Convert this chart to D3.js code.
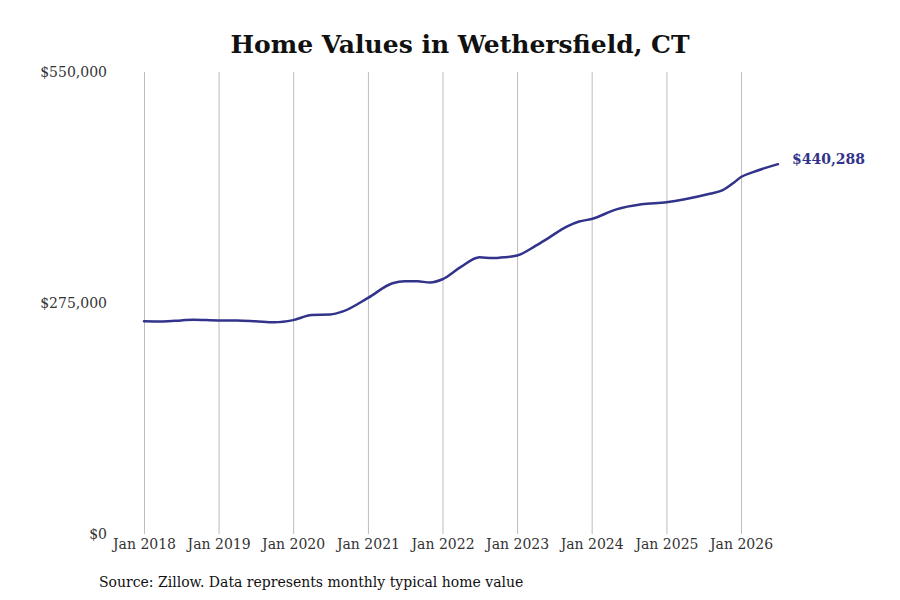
<!DOCTYPE html>
<html>
<head>
<meta charset="utf-8">
<script src="https://cdn.jsdelivr.net/npm/d3@7"></script>
<style>
	body { margin: 0; background: #fff; }
	svg { display: block; }
</style>
</head>
<body>
<svg id="chart" width="900" height="600"></svg>
<script>
// typical home value, Wethersfield CT
const months = [
	"2018-01", "2018-04", "2018-07", "2018-09", "2019-01", "2019-04", "2019-07", "2019-10",
	"2020-01", "2020-04", "2020-07", "2020-09", "2021-01", "2021-05", "2021-07", "2021-09",
	"2021-11", "2022-01", "2022-04", "2022-07", "2022-09", "2022-11", "2023-01", "2023-04",
	"2023-06", "2023-09", "2023-11", "2024-01", "2024-05", "2024-09", "2025-01", "2025-04",
	"2025-08", "2025-10", "2025-12", "2026-01", "2026-03", "2026-07"
];
const values = [
	253300, 253000, 254200, 255200, 254300, 254300, 253300, 252000,
	254600, 260800, 261300, 265000, 281000, 298500, 301000, 300800,
	299500, 303300, 318000, 329500, 328500, 329500, 331500, 343000,
	352000, 366000, 372000, 375000, 386500, 392500, 395000, 398500,
	405000, 409000, 419000, 425000, 430800, 440288
];
const yTicks = [0, 275000, 550000];
const xTickYears = [2018, 2019, 2020, 2021, 2022, 2023, 2024, 2025, 2026];

const title = "Home Values in Wethersfield, CT";
const source = "Source: Zillow. Data represents monthly typical home value";
const lineColor = "#32338a";

const width = 900;
const height = 600;
const margin = {top: 72, right: 122, bottom: 66, left: 144};

const parse = d3.timeParse("%Y-%m");
const data = months.map((m, i) => ({date: parse(m), value: values[i]}));

const svg = d3.select("#chart")
	.attr("viewBox", [0, 0, width, height]);

const x = d3.scaleTime()
	.domain([new Date(2018, 0, 1), new Date(2026, 6, 1)])
	.range([margin.left, width - margin.right]);

const y = d3.scaleLinear()
	.domain([0, 550000])
	.range([height - margin.bottom, margin.top]);

// title
svg.append("text")
	.attr("x", 460)
	.attr("y", 53)
	.attr("text-anchor", "middle")
	.style("font", "bold 25px 'DejaVu Serif'")
	.style("fill", "#111")
	.text(title);

// vertical grid + x labels
const xAxis = d3.axisBottom(x)
	.tickValues(xTickYears.map(yr => new Date(yr, 0, 1)))
	.tickFormat(d3.timeFormat("Jan %Y"))
	.tickSize(-(y(0) - y(550000)))
	.tickPadding(5);

const gx = svg.append("g")
	.attr("transform", "translate(0," + y(0) + ")")
	.call(xAxis);
gx.select(".domain").remove();
gx.selectAll(".tick line")
	.attr("stroke", "#bdbdbd")
	.attr("stroke-width", 1);
gx.selectAll(".tick text")
	.style("font", "14px 'DejaVu Serif'")
	.style("fill", "#333");

// y labels, no lines
const yAxis = d3.axisLeft(y)
	.tickValues(yTicks)
	.tickFormat(d => "$" + d3.format(",")(d))
	.tickSize(0)
	.tickPadding(37);

const gy = svg.append("g")
	.attr("transform", "translate(" + margin.left + ",0)")
	.call(yAxis);
gy.select(".domain").remove();
gy.selectAll(".tick text")
	.style("font", "14px 'DejaVu Serif'")
	.style("fill", "#333");

// the line
svg.append("path")
	.datum(data)
	.attr("fill", "none")
	.attr("stroke", lineColor)
	.attr("stroke-width", 2.5)
	.attr("stroke-linejoin", "round")
	.attr("stroke-linecap", "round")
	.attr("d", d3.line()
		.x(d => x(d.date))
		.y(d => y(d.value))
		.curve(d3.curveMonotoneX));

// end value label
const last = data[data.length - 1];
svg.append("text")
	.attr("x", x(last.date) + 14)
	.attr("y", y(last.value) - 5)
	.attr("dy", "0.35em")
	.style("font", "bold 14px 'DejaVu Serif'")
	.style("fill", lineColor)
	.text("$" + d3.format(",")(last.value));

// source note
svg.append("text")
	.attr("x", 99)
	.attr("y", 587)
	.style("font", "14px 'DejaVu Serif'")
	.style("fill", "#111")
	.text(source);
</script>
</body>
</html>
